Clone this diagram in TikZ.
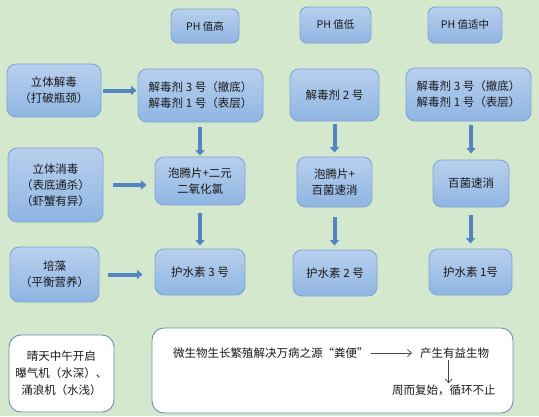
\documentclass[tikz,border=0pt]{standalone}
\usepackage{fontspec}
\usepackage{xcolor}
\usepackage{tikz}
\usetikzlibrary{arrows.meta}
\newfontfamily\cjk{Noto Sans CJK SC}
\definecolor{bggreen}{RGB}{212,232,206}
\definecolor{boxtop}{RGB}{184,208,238}
\definecolor{boxbot}{RGB}{143,181,226}
\definecolor{boxline}{RGB}{128,166,214}
\definecolor{arrowblue}{RGB}{84,132,196}
\definecolor{noteline}{RGB}{110,140,180}
\definecolor{txt}{RGB}{25,25,25}
\tikzset{
  phbox/.style={draw=boxline,line width=0.9pt,rounded corners=7pt,top color=boxtop,bottom color=boxbot,
    font=\cjk\fontsize{10.5}{13}\selectfont,text=txt,align=center,inner sep=0pt},
  flowbox/.style={draw=boxline,line width=0.9pt,rounded corners=9pt,top color=boxtop,bottom color=boxbot,
    font=\cjk\fontsize{11.5}{16}\selectfont,text=txt,align=center,inner sep=0pt},
  notebox/.style={draw=noteline,line width=0.9pt,rounded corners=12pt,fill=white,
    font=\cjk\fontsize{11.5}{17}\selectfont,text=txt,align=center,inner sep=0pt},
  notetext/.style={font=\cjk\fontsize{11.5}{15}\selectfont,text=txt,inner sep=0pt},
  bigarrow/.style={draw=arrowblue,line width=4pt,-{Triangle[width=9pt,length=5.5pt]}},
  thinarrow/.style={draw=txt!80,line width=0.7pt,-{Straight Barb[width=7pt,length=4pt]}}
}
\begin{document}
\begin{tikzpicture}[x=1pt,y=-1pt]
  \useasboundingbox (0,0) rectangle (539,416);
  \fill[bggreen] (0,0) rectangle (539,416);
  % column heads
  \node[phbox,minimum width=68pt,minimum height=34pt] (ph1) at (205,26) {PH 值高};
  \node[phbox,minimum width=71pt,minimum height=36pt] (ph2) at (335.5,25) {PH 值低};
  \node[phbox,minimum width=74pt,minimum height=36pt] (ph3) at (465,25) {PH 值适中};
  % left column
  \node[flowbox,minimum width=94pt,minimum height=53pt] (jiedu) at (54,90.5) {立体解毒\\（打破瓶颈）};
  \node[flowbox,minimum width=95pt,minimum height=74pt] (xiaodu) at (55.5,185) {立体消毒\\（表底通杀）\\（虾蟹有异）};
  \node[flowbox,minimum width=89pt,minimum height=55pt] (peizao) at (54.5,274.5) {培藻\\（平衡营养）};
  % PH high
  \node[flowbox,minimum width=125pt,minimum height=53pt] (ja) at (200.5,95.5) {解毒剂 3 号（撤底）\\解毒剂 1 号（表层）};
  \node[flowbox,minimum width=90pt,minimum height=48pt] (pa) at (200,181) {泡腾片+二元\\二氧化氯};
  \node[flowbox,minimum width=90pt,minimum height=46pt] (ha) at (200,272) {护水素 3 号};
  % PH low
  \node[flowbox,minimum width=89pt,minimum height=52pt] (jb) at (334.5,95) {解毒剂 2 号};
  \node[flowbox,minimum width=75pt,minimum height=50pt] (pb) at (334.5,182) {泡腾片+\\百菌速消};
  \node[flowbox,minimum width=84pt,minimum height=46pt] (hb) at (335,273) {护水素 2 号};
  % PH medium
  \node[flowbox,minimum width=125pt,minimum height=53pt] (jc) at (468.5,94.5) {解毒剂 3 号（撤底）\\解毒剂 1 号（表层）};
  \node[flowbox,minimum width=76pt,minimum height=47pt] (pc) at (471,183.5) {百菌速消};
  \node[flowbox,minimum width=83pt,minimum height=46pt] (hc) at (470.5,272) {护水素 1号};
  % block arrows
  \draw[bigarrow,shorten <=2pt,shorten >=1pt] (jiedu.east) -- (jiedu.east -| ja.west);
  \draw[bigarrow,shorten <=10pt,shorten >=8pt] (xiaodu.east) -- (xiaodu.east -| pa.west);
  \draw[bigarrow,shorten <=9pt,shorten >=12pt] (peizao.east) -- (peizao.east -| ha.west);
  \draw[bigarrow,shorten <=5pt,shorten >=1pt] (ja.south -| pa.north) -- (pa.north);
  \draw[bigarrow,shorten <=8pt,shorten >=3pt] (pa.south) -- (ha.north);
  \draw[bigarrow,shorten <=3pt,shorten >=4pt] (jb.south -| pb.north) -- (pb.north);
  \draw[bigarrow,shorten <=10pt,shorten >=4pt] (pb.south) -- (pb.south |- hb.north);
  \draw[bigarrow,shorten <=4pt,shorten >=6pt] (jc.south -| pc.north) -- (pc.north);
  \draw[bigarrow,shorten <=8pt,shorten >=5pt] (pc.south -| hc.north) -- (hc.north);
  % notes
  \node[notebox,minimum width=105pt,minimum height=77pt] (qing) at (61.5,373.5) {晴天中午开启\\曝气机（水深）、\\涌浪机（水浅）};
  \node[notebox,minimum width=361pt,minimum height=85pt] (cycle) at (332.5,370.5) {};
  \node[notetext,anchor=west] (weish) at (173,353) {微生物生长繁殖解决万病之源“粪便”};
  \node[notetext,anchor=west] (chans) at (420,353) {产生有益生物};
  \node[notetext,anchor=west] (zhouer) at (392,390) {周而复始，循环不止};
  \draw[thinarrow,shorten <=2pt,shorten >=8pt] (weish.east) -- (chans.west);
  \draw[thinarrow,shorten <=1pt,shorten >=1pt] ([xshift=-6pt]chans.south) -- ([xshift=-6pt]chans.south |- zhouer.north);
\end{tikzpicture}
\end{document}
